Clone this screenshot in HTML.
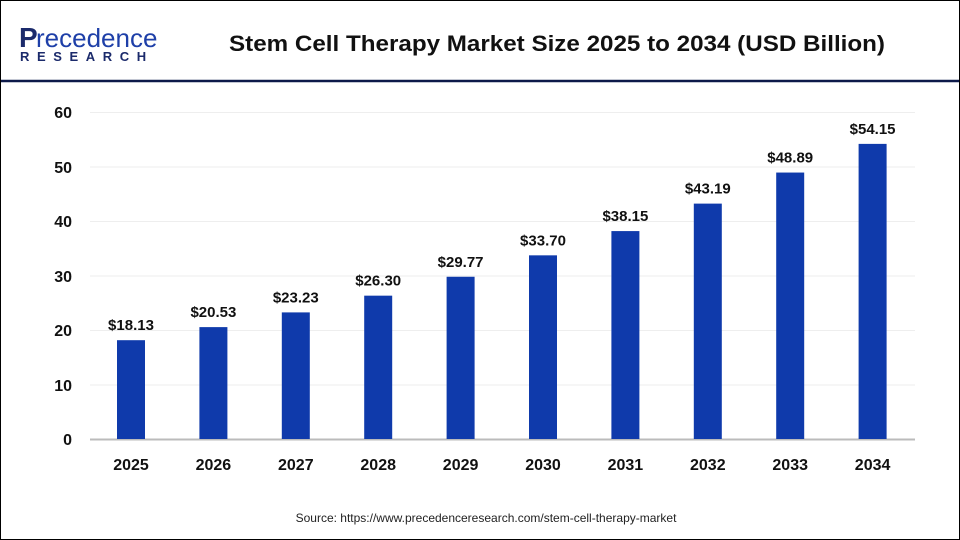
<!DOCTYPE html>
<html><head><meta charset="utf-8"><style>
body{margin:0;width:960px;height:540px;background:#fff;overflow:hidden;font-family:"Liberation Sans",Arial,sans-serif}
.frame{position:absolute;left:0;top:0;width:958px;height:538px;border:1px solid #000}
</style></head><body>
<div class="frame"></div>
<svg width="960" height="540" style="position:absolute;left:0;top:0" font-family="Liberation Sans, Arial, sans-serif">
<line x1="1" y1="81" x2="959" y2="81" stroke="#0d1a4a" stroke-width="2.5"/>
<text x="19" y="47" font-size="28" fill="#1b2a6b" font-weight="bold" letter-spacing="-0.5">P</text>
<text x="36" y="47" font-size="26" fill="#1e3fa8">recedence</text>
<text x="20" y="61" font-size="13" fill="#1b2a6b" font-weight="bold" letter-spacing="7.6">RESEARCH</text>
<text x="557" y="51" font-size="22" font-weight="bold" fill="#111" text-anchor="middle" textLength="656" lengthAdjust="spacingAndGlyphs">Stem Cell Therapy Market Size 2025 to 2034 (USD Billion)</text>
<g stroke="#eee" stroke-width="1">
<line x1="90" x2="915" y1="112.5" y2="112.5"/><line x1="90" x2="915" y1="167" y2="167"/><line x1="90" x2="915" y1="221.5" y2="221.5"/><line x1="90" x2="915" y1="276" y2="276"/><line x1="90" x2="915" y1="330.5" y2="330.5"/><line x1="90" x2="915" y1="385" y2="385"/>
</g>
<line x1="90" x2="915" y1="439.5" y2="439.5" stroke="#bbb" stroke-width="2"/>
<g font-size="16" font-weight="bold" fill="#111" text-anchor="end">
<text x="72" y="118">60</text><text x="72" y="173">50</text><text x="72" y="227">40</text><text x="72" y="282">30</text><text x="72" y="336">20</text><text x="72" y="391">10</text><text x="72" y="445">0</text>
</g>
<g id="bars" fill="#0f3aab"></g>
<g id="lbl" font-size="15" font-weight="bold" fill="#111" text-anchor="middle"></g>
<g id="yr" font-size="16" font-weight="bold" fill="#111" text-anchor="middle"></g>
<text x="486" y="522" font-size="12" fill="#222" text-anchor="middle">Source: https://www.precedenceresearch.com/stem-cell-therapy-market</text>
</svg>
<script>
var v=[18.13,20.53,23.23,26.30,29.77,33.70,38.15,43.19,48.89,54.15];
var b=document.getElementById('bars'),l=document.getElementById('lbl'),y=document.getElementById('yr');
var ns='http://www.w3.org/2000/svg';
v.forEach(function(d,i){var cx=131+i*82.4,h=d*5.45,top=439-h;
var r=document.createElementNS(ns,'rect');r.setAttribute('x',cx-14);r.setAttribute('y',top);r.setAttribute('width',28);r.setAttribute('height',h);b.appendChild(r);
var t=document.createElementNS(ns,'text');t.setAttribute('x',cx);t.setAttribute('y',top-10);t.textContent='$'+d.toFixed(2);l.appendChild(t);
var u=document.createElementNS(ns,'text');u.setAttribute('x',cx);u.setAttribute('y',470);u.textContent=2025+i;y.appendChild(u);});
</script>
</body></html>
